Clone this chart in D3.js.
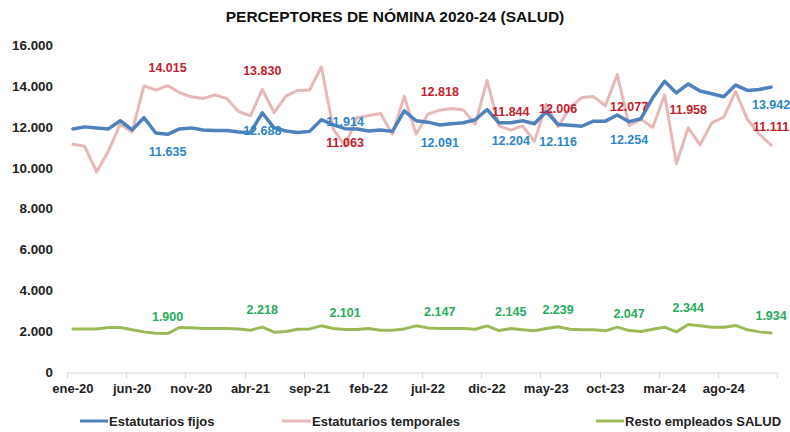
<!DOCTYPE html>
<html>
<head>
<meta charset="utf-8">
<script src="https://cdn.jsdelivr.net/npm/d3@7"></script>
<style>
  body { margin: 0; background: #fff; }
  text { font-family: "Liberation Sans", Arial, sans-serif; }
</style>
</head>
<body>
<div id="chart"></div>
<script>
// ---- data ----
var months = ["ene", "feb", "mar", "abr", "may", "jun", "jul", "ago", "sep", "oct", "nov", "dic"];
var years = ["20", "21", "22", "23", "24"];
var categories = [];
years.forEach(function(y) {
  months.forEach(function(m) { categories.push(m + "-" + y); });
});

var tickLabels = ["ene-20", "jun-20", "nov-20", "abr-21", "sep-21", "feb-22",
                  "jul-22", "dic-22", "may-23", "oct-23", "mar-24", "ago-24"];

var estatutariosFijos = [
  11900, 12000, 11950, 11900, 12300, 11850, 12450, 11700, 11635, 11900, 11950, 11850,
  11820, 11820, 11750, 11720, 12688, 11950, 11800, 11720, 11780, 12350, 12100, 11914,
  11900, 11800, 11850, 11780, 12780, 12300, 12230, 12091, 12150, 12200, 12350, 12850,
  12200, 12204, 12300, 12150, 12750, 12116, 12080, 12030, 12280, 12280, 12580, 12254,
  12400, 13420, 14230, 13660, 14100, 13750, 13620, 13470, 14040, 13780, 13830, 13942
];
var estatutariosTemporales = [
  11150, 11050, 9800, 10820, 12130, 11750, 14000, 13800, 14015, 13680, 13470, 13390,
  13560, 13390, 12750, 12540, 13830, 12700, 13500, 13780, 13800, 14940, 11900, 11063,
  12450, 12560, 12650, 11640, 13500, 11640, 12620, 12818, 12900, 12820, 12130, 14270,
  12050, 11844, 12050, 11290, 13100, 12006, 12940, 13430, 13480, 13030, 14560, 12077,
  12370, 11970, 13560, 10200, 11958, 11120, 12200, 12480, 13720, 12370, 11640, 11111
];
var restoEmpleados = [
  2130, 2130, 2130, 2195, 2195, 2085, 1985, 1920, 1900, 2200, 2190, 2150,
  2150, 2150, 2130, 2065, 2218, 1970, 2000, 2115, 2130, 2280, 2150, 2101,
  2100, 2150, 2065, 2065, 2130, 2280, 2180, 2147, 2150, 2150, 2115, 2280,
  2050, 2145, 2085, 2035, 2150, 2239, 2115, 2085, 2085, 2035, 2215, 2047,
  2000, 2115, 2215, 1985, 2344, 2280, 2215, 2215, 2300, 2085, 1985, 1934
];

// which points carry a value label
var labelsFijos = [8, 16, 23, 31, 37, 41, 47, 59];
var labelsTemporales = [8, 16, 23, 31, 37, 41, 47, 52, 59];
var labelsResto = [8, 16, 23, 31, 37, 41, 47, 52, 59];

var yTicks = [0, 2000, 4000, 6000, 8000, 10000, 12000, 14000, 16000];

// ---- series styling ----
var series = [
  {name: "Estatutarios fijos", values: estatutariosFijos, labels: labelsFijos,
   color: "#4f81bd", labelColor: "#2e86c8", width: 3.5, dy: 17.5, special: {23: -7}},
  {name: "Estatutarios temporales", values: estatutariosTemporales, labels: labelsTemporales,
   color: "#e6b9b8", labelColor: "#c4202c", width: 3, dy: -18.5, special: {23: -3}},
  {name: "Resto empleados SALUD", values: restoEmpleados, labels: labelsResto,
   color: "#9bbb59", labelColor: "#25ad5c", width: 3, dy: -17, special: {}}
];

var W = 790, H = 432;
var margin = {top: 45, right: 13, bottom: 59.5, left: 67},
    w = W - margin.left - margin.right,
    h = H - margin.top - margin.bottom;

var locale = d3.formatLocale({decimal: ",", thousands: ".", grouping: [3], currency: ["", "€"]});
var fmt = locale.format(",d");

var svg = d3.select("#chart").append("svg")
    .attr("width", W)
    .attr("height", H);

// title
svg.append("text")
    .attr("x", 395)
    .attr("y", 22)
    .attr("text-anchor", "middle")
    .attr("font-size", "15.5px")
    .attr("font-weight", "bold")
    .attr("fill", "#111")
    .text("PERCEPTORES DE NÓMINA 2020-24 (SALUD)");

var g = svg.append("g")
    .attr("transform", "translate(" + margin.left + "," + margin.top + ")");

var x = d3.scaleBand()
    .domain(categories)
    .range([0, w])
    .padding(0);
var y = d3.scaleLinear()
    .domain([0, 16000])
    .range([h, 0]);

function cx(i) { return x(categories[i]) + x.bandwidth() / 2; }

// y labels (no axis line, no grid)
g.selectAll(".ylab")
    .data(yTicks)
  .enter().append("text")
    .attr("class", "ylab")
    .attr("x", -14)
    .attr("y", function(d) { return y(d); })
    .attr("dy", "0.35em")
    .attr("text-anchor", "end")
    .attr("font-size", "13.4px")
    .attr("font-weight", "bold")
    .attr("fill", "#222")
    .text(function(d) { return fmt(d); });

// x axis line + tick marks every 5 months
g.append("line")
    .attr("x1", 0).attr("x2", w)
    .attr("y1", h + 0.5).attr("y2", h + 0.5)
    .attr("stroke", "#d9d9d9")
    .attr("stroke-width", 1);

var tickPos = categories.filter(function(c, i) { return i % 5 === 0; })
    .map(function(c) { return x(c); });
tickPos.push(w);
g.selectAll(".tick")
    .data(tickPos)
  .enter().append("line")
    .attr("x1", function(d) { return Math.round(d) + 0.5; })
    .attr("x2", function(d) { return Math.round(d) + 0.5; })
    .attr("y1", h)
    .attr("y2", h + 6)
    .attr("stroke", "#d9d9d9");

g.selectAll(".xlab")
    .data(tickLabels)
  .enter().append("text")
    .attr("class", "xlab")
    .attr("x", function(d) { return x(d) + x.bandwidth() / 2; })
    .attr("y", h + 20.5)
    .attr("text-anchor", "middle")
    .attr("font-size", "13px")
    .attr("font-weight", "bold")
    .attr("fill", "#222")
    .text(function(d) { return d; });

// lines
var line = d3.line()
    .x(function(d, i) { return cx(i); })
    .y(function(d) { return y(d); });

// draw pink first, then blue, then green on top
[1, 0, 2].forEach(function(k) {
  var s = series[k];
  g.append("path")
      .datum(s.values)
      .attr("fill", "none")
      .attr("stroke", s.color)
      .attr("stroke-width", s.width)
      .attr("stroke-linejoin", "round")
      .attr("stroke-linecap", "round")
      .attr("d", line);
});

// value labels
series.forEach(function(s) {
  g.selectAll(null)
      .data(s.labels)
    .enter().append("text")
      .attr("x", function(i) { return cx(i); })
      .attr("y", function(i) {
        var off = s.special[i] !== undefined ? s.special[i] : s.dy;
        return y(s.values[i]) + off;
      })
      .attr("dy", "0.35em")
      .attr("text-anchor", "middle")
      .attr("font-size", "12.5px")
      .attr("font-weight", "bold")
      .attr("fill", s.labelColor)
      .text(function(i) { return fmt(s.values[i]); });
});

// legend
var legendPos = [{lx: 80, tx: 109}, {lx: 282, tx: 312}, {lx: 596, tx: 625}];
var legend = svg.selectAll(".legend")
    .data(series)
  .enter().append("g")
    .attr("class", "legend")
    .attr("transform", "translate(0,421)");

legend.append("line")
    .attr("x1", function(d, i) { return legendPos[i].lx; })
    .attr("x2", function(d, i) { return legendPos[i].tx - 1; })
    .attr("y1", 0).attr("y2", 0)
    .attr("stroke", function(d) { return d.color; })
    .attr("stroke-width", 3);

legend.append("text")
    .attr("x", function(d, i) { return legendPos[i].tx; })
    .attr("y", 0)
    .attr("dy", "0.35em")
    .attr("font-size", "13px")
    .attr("font-weight", "bold")
    .attr("fill", "#222")
    .text(function(d) { return d.name; });
</script>
</body>
</html>
